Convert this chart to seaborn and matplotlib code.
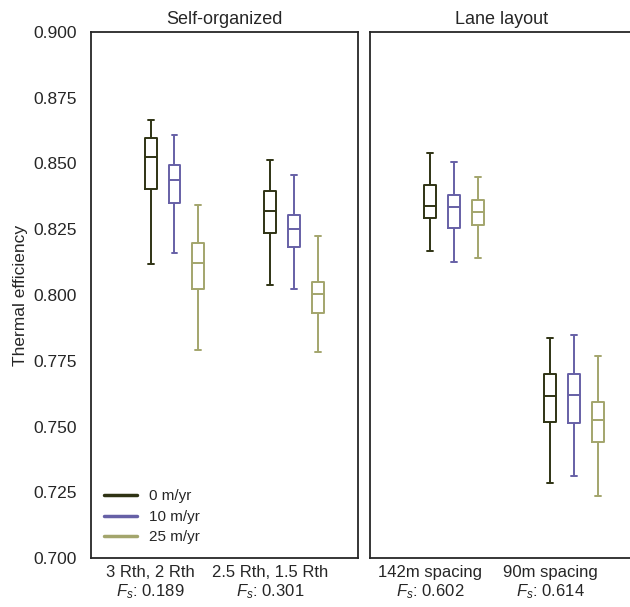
import matplotlib
matplotlib.use("Agg")
import matplotlib.pyplot as plt
from matplotlib.lines import Line2D
import pandas as pd
import seaborn as sns

sns.set_style("white")
plt.rcParams['font.family'] = ['Liberation Sans', 'DejaVu Sans']
plt.rcParams['mathtext.fontset'] = 'custom'
plt.rcParams['mathtext.it'] = 'Liberation Sans:italic'
plt.rcParams['mathtext.rm'] = 'Liberation Sans'

# %% data: five-number summaries
# each entry: [whisker low, q1, median, q3, whisker high]
rates = ["0 m/yr", "10 m/yr", "25 m/yr"]
colors = ["#2f3314", "#6660a6", "#a3a56c"]

selforg_labels = ["3 Rth, 2 Rth\n$F_s$: 0.189", "2.5 Rth, 1.5 Rth\n$F_s$: 0.301"]
selforg_0 = [[0.8118, 0.8403, 0.8524, 0.8596, 0.8665],
             [0.8039, 0.8234, 0.8321, 0.8397, 0.8514]]
selforg_10 = [[0.8160, 0.8349, 0.8439, 0.8493, 0.8607],
              [0.8022, 0.8184, 0.8252, 0.8304, 0.8456]]
selforg_25 = [[0.7792, 0.8023, 0.8121, 0.8197, 0.8343],
              [0.7782, 0.7932, 0.8004, 0.8049, 0.8224]]

lane_labels = ["142m spacing\n$F_s$: 0.602", "90m spacing\n$F_s$: 0.614"]
lane_0 = [[0.8168, 0.8292, 0.8338, 0.8418, 0.8541],
          [0.7286, 0.7518, 0.7617, 0.7700, 0.7838]]
lane_10 = [[0.8127, 0.8255, 0.8335, 0.8380, 0.8507],
           [0.7312, 0.7512, 0.7619, 0.7700, 0.7849]]
lane_25 = [[0.8142, 0.8266, 0.8314, 0.8361, 0.8450],
           [0.7236, 0.7442, 0.7525, 0.7592, 0.7769]]

yticks = [0.700, 0.725, 0.750, 0.775, 0.800, 0.825, 0.850, 0.875, 0.900]


def make_df(labels, per_rate):
    rows = []
    for rate, stats_list in zip(rates, per_rate):
        for lab, stats in zip(labels, stats_list):
            for v in stats:
                rows.append({'layout': lab, 'rate': rate, 'eff': v})
    return pd.DataFrame(rows)


df_self = make_df(selforg_labels, [selforg_0, selforg_10, selforg_25])
df_lane = make_df(lane_labels, [lane_0, lane_10, lane_25])

# %% plot
fig = plt.figure(figsize=(6.3, 6.07), dpi=100)
ax1 = fig.add_axes([0.1437, 0.0807, 0.4246, 0.8666])
ax2 = fig.add_axes([0.5873, 0.0807, 0.4190, 0.8666], sharey=ax1)

for ax, d, labels, title in [(ax1, df_self, selforg_labels, "Self-organized"),
                             (ax2, df_lane, lane_labels, "Lane layout")]:
    sns.boxplot(data=d, x='layout', y='eff', hue='rate', order=labels,
                hue_order=rates, palette=colors, whis=(0, 100), fill=False,
                width=0.6, gap=0.5, linewidth=1.4, legend=False, ax=ax)
    # labels sit under the first box of each group
    ax.set_xticks([i - 0.2 for i in range(len(labels))])
    ax.set_xticklabels(labels)
    ax.set_title(title, fontsize=13, pad=6)
    ax.set_xlabel("")
    ax.tick_params(axis='x', labelsize=12, length=0, pad=5)
    for s in ax.spines.values():
        s.set_color('#262626')
        s.set_linewidth(1.3)

ax1.set_xlim(-0.7, 1.53)
ax2.set_xlim(-0.7, 1.5)
ax1.set_ylim(0.7, 0.9)
ax1.set_yticks(yticks)
ax1.set_yticklabels([f"{t:.3f}" for t in yticks])
ax1.tick_params(axis='y', labelsize=12.5, length=0, pad=10)
ax1.set_ylabel("Thermal efficiency", fontsize=12.5, labelpad=4)
ax2.set_ylabel("")
ax2.tick_params(axis='y', labelleft=False, length=0)

handles = [Line2D([], [], color=c, lw=2.5) for c in colors]
ax1.legend(handles, rates, loc='lower left', frameon=False, fontsize=11,
           handlelength=2.15, handletextpad=0.75, labelspacing=0.42,
           borderaxespad=0.5)

fig.savefig("out.png", dpi=100)
